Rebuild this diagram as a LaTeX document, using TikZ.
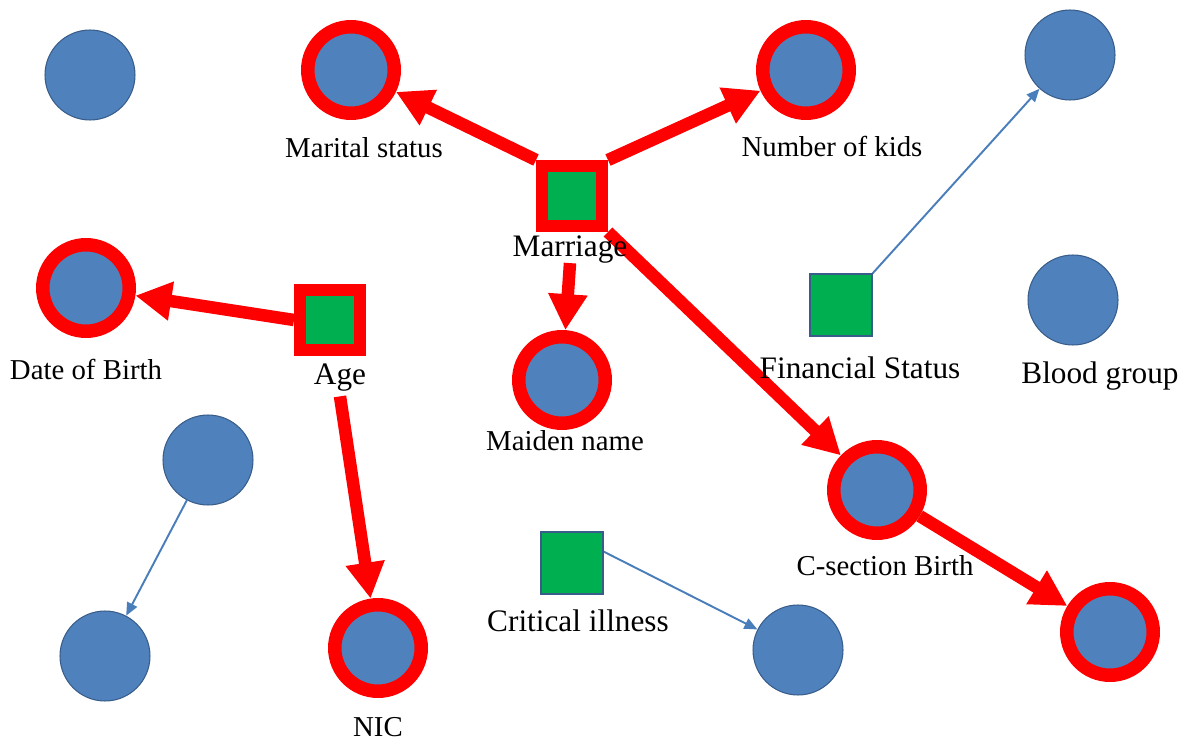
\documentclass[tikz,border=0pt]{standalone}
\usepackage{fontspec}
\setmainfont{Liberation Serif}
\usepackage{tikz}
\usetikzlibrary{arrows.meta}
\usetikzlibrary{backgrounds}
\definecolor{nodeblue}{HTML}{4F81BD}
\definecolor{edgeblue}{HTML}{385D8A}
\definecolor{factgreen}{HTML}{00B050}
\definecolor{arrowblue}{HTML}{4A7EBB}
\tikzset{
  attr/.style={circle, fill=nodeblue, draw=edgeblue, line width=0.6pt, minimum size=1.8cm, inner sep=0pt},
  hitattr/.style={circle, fill=nodeblue, draw=red, line width=0.27cm, minimum size=1.73cm, inner sep=0pt},
  fact/.style={rectangle, fill=factgreen, draw=edgeblue, line width=0.6pt, minimum size=1.24cm, inner sep=0pt},
  hitfact/.style={rectangle, fill=factgreen, draw=red, line width=0.24cm, minimum size=1.2cm, inner sep=0pt},
  lbl/.style={anchor=base, inner sep=0pt, font=\fontsize{16.4}{18}\selectfont},
  biglbl/.style={anchor=base, inner sep=0pt, font=\fontsize{17.8}{20}\selectfont},
  redarrow/.style={draw=red, line width=0.25cm, -{Triangle[length=0.72cm,width=0.74cm]}},
  bluearrow/.style={draw=arrowblue, line width=1.1pt, -{Triangle[length=0.26cm,width=0.22cm]}}
}

\begin{document}
\begin{tikzpicture}[x=0.02cm, y=-0.02cm]
\useasboundingbox (0,0) rectangle (1187,740);

% plain attributes
\node[attr] (tl) at (90,75) {};
\node[attr] (tr) at (1070,55) {};
\node[attr] (blood) at (1073,300) {};
\node[attr] (midleft) at (208,460) {};
\node[attr] (botleft) at (105,656) {};
\node[attr] (botmid) at (798,650) {};

% attributes that get linked
\node[hitattr] (marital) at (351,70) {};
\node[hitattr] (kids) at (806,70) {};
\node[hitattr] (dob) at (86,288) {};
\node[hitattr] (maiden) at (562,380) {};
\node[hitattr] (csection) at (877,490) {};
\node[hitattr] (botright) at (1110,632) {};
\node[hitattr] (nic) at (378,648) {};

% facts
\node[hitfact] (marriage) at (572,196) {};
\node[hitfact] (age) at (330,320) {};
\node[fact] (fin) at (841,305) {};
\node[fact] (crit) at (572,563) {};

% labels
\node[lbl] (maritallbl) at (364,157) {Marital status};
\node[lbl] (kidslbl) at (832,156) {Number of kids};
\node[biglbl] (marriagelbl) at (570,256) {Marriage};
\node[lbl] (doblbl) at (86,379) {Date of Birth};
\node[biglbl] (agelbl) at (340,384) {Age};
\node[lbl] (maidenlbl) at (565,450) {Maiden name};
\node[biglbl] (finlbl) at (860,378) {Financial Status};
\node[biglbl] (bloodlbl) at (1100,383) {Blood group};
\node[lbl] (csectionlbl) at (885,575) {C-section Birth};
\node[biglbl] (critlbl) at (578,631) {Critical illness};
\node[lbl] (niclbl) at (378,736) {NIC};

\begin{scope}[on background layer]
\draw[redarrow] (marriage.north west) -- (marital);
\draw[redarrow] (marriage.north east) -- (kids);
\draw[redarrow] (marriagelbl.south) -- (maiden);
\draw[redarrow] (marriage.south east) -- (csection);
\draw[redarrow] (age.west) -- (dob);
\draw[redarrow] ([yshift=-3pt]agelbl.south) -- (nic);
\draw[redarrow] (csection) -- (botright);
\draw[bluearrow] (fin.north east) -- (tr);
\draw[bluearrow] (midleft) -- (botleft);
\draw[bluearrow] (crit.20) -- (botmid);
\end{scope}
\end{tikzpicture}
\end{document}
